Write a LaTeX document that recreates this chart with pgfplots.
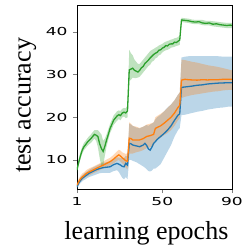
\documentclass[border=0pt]{standalone}
\usepackage{pgfplots}
\pgfplotsset{compat=1.18}
\usepgfplotslibrary{fillbetween}
\usepackage{pgfplotstable}
\usepackage{fontspec}
\setmainfont{Liberation Serif}
\newfontfamily\dejavu{DejaVu Sans}
\definecolor{mblue}{HTML}{1F77B4}
\definecolor{morange}{HTML}{FF7F0E}
\definecolor{mgreen}{HTML}{2CA02C}

\pgfplotstableread{
x m lo hi
1 7.7 7.0 8.4
2 9.5 8.8 10.2
3 11.0 10.2 11.8
4 12.3 11.5 13.1
5 13.1 12.3 14.0
6 13.6 12.8 14.5
7 14.2 13.3 15.1
8 14.6 13.7 15.6
9 15.0 14.0 16.0
10 15.5 14.5 16.5
11 16.0 15.0 17.0
12 15.8 14.5 17.0
13 15.5 13.0 17.0
14 13.8 10.5 16.5
15 12.7 8.5 16.0
16 12.0 8.5 14.5
17 13.2 11.0 15.0
18 14.7 13.2 16.0
19 16.0 14.8 17.2
20 17.4 16.3 18.5
21 18.3 17.2 19.4
22 19.3 18.2 20.4
23 19.8 18.7 20.9
24 20.3 19.2 21.4
25 20.6 19.6 21.6
26 20.4 19.3 21.5
27 21.0 20.0 22.0
28 21.2 20.2 22.2
29 21.0 19.8 22.1
30 21.5 20.0 22.8
31 31.1 28.5 35.8
32 31.3 28.8 35.0
33 31.5 29.3 34.5
34 31.0 29.2 33.5
35 30.8 29.2 33.0
36 30.6 29.3 32.5
37 31.0 29.5 32.5
38 31.6 30.0 33.0
39 31.9 30.5 33.5
40 32.6 31.0 34.0
41 33.0 31.5 34.5
42 33.4 32.0 35.0
43 33.9 32.3 35.5
44 34.3 33.0 35.8
45 34.7 33.2 36.0
46 35.0 33.8 36.3
47 35.2 34.0 36.5
48 35.7 34.5 36.8
49 35.8 34.7 37.0
50 36.2 35.2 37.2
51 36.4 35.5 37.5
52 36.8 35.7 37.7
53 36.7 35.8 37.9
54 37.1 36.0 38.0
55 37.2 36.3 38.2
56 37.2 36.4 38.3
57 37.6 36.5 38.5
58 37.5 36.7 38.6
59 37.8 36.8 38.8
60 38.1 37.0 39.2
61 42.8 42.3 43.3
63 42.7 42.2 43.2
65 42.6 42.1 43.1
67 42.4 41.9 42.9
69 42.3 41.8 42.8
71 42.4 41.8 42.8
73 42.1 41.6 42.8
75 42.0 41.5 42.6
77 42.1 41.5 42.6
79 41.8 41.3 42.5
81 41.9 41.2 42.4
83 41.7 41.1 42.3
85 41.6 41.0 42.2
87 41.5 40.9 42.1
89 41.6 40.9 42.1
90 41.5 40.9 42.1
}\green

\pgfplotstableread{
x m lo hi
1 4.1 3.5 4.7
2 4.9 4.3 5.6
3 5.6 5.0 6.3
4 6.0 5.3 6.8
5 6.3 5.6 7.1
6 6.7 6.0 7.5
7 7.0 6.2 7.8
8 7.2 6.4 8.0
9 7.4 6.6 8.2
10 7.6 6.8 8.4
12 8.0 7.2 8.8
14 8.4 7.6 9.2
16 8.8 8.0 9.6
18 9.2 8.3 10.1
20 9.6 8.7 10.5
22 10.2 9.2 11.2
24 10.9 9.8 12.0
25 11.2 10.0 12.4
26 10.9 9.6 12.2
27 10.5 9.2 11.8
28 10.2 8.8 11.6
29 9.8 8.2 11.4
30 9.7 7.8 11.6
31 15.1 11.5 18.8
32 15.0 11.5 18.5
33 14.7 11.5 18.0
35 14.7 11.8 17.8
37 14.7 12.0 17.5
39 15.0 12.3 17.8
41 15.5 12.8 18.3
43 15.7 13.0 18.5
45 16.0 13.3 18.8
46 17.4 14.5 20.0
47 17.6 14.8 20.3
49 18.0 15.2 20.8
51 18.6 15.8 21.4
53 19.3 16.3 22.2
55 20.0 17.0 23.0
57 21.0 18.0 24.0
59 22.3 19.3 25.3
60 22.8 19.8 25.8
61 28.7 24.5 33.5
63 28.9 24.8 33.4
65 28.8 25.0 33.2
67 28.75 25.2 33.0
70 28.7 25.4 32.8
73 28.8 25.6 32.5
76 28.75 25.8 32.2
79 28.8 26.0 32.0
82 28.8 26.1 31.8
85 28.9 26.3 31.5
88 28.9 26.4 31.2
90 28.9 26.4 31.0
}\orange

\pgfplotstableread{
x m lo hi
1 3.75 3.2 4.3
2 4.6 4.0 5.2
3 5.2 4.6 5.9
4 5.7 5.0 6.4
5 6.0 5.3 6.8
6 6.3 5.5 7.1
7 6.6 5.8 7.4
8 6.9 6.0 7.7
10 7.3 6.3 8.2
12 7.7 6.6 8.6
14 8.0 6.9 9.0
16 8.2 7.0 9.3
18 8.3 7.0 9.5
20 8.4 7.0 9.7
22 8.9 7.4 10.2
24 9.2 7.6 10.6
25 9.0 7.2 10.6
26 8.8 6.5 10.5
27 8.5 5.8 10.4
28 8.4 5.5 10.4
29 9.2 6.0 11.0
30 8.8 5.5 10.8
31 13.9 10.0 18.5
32 13.8 10.0 18.3
33 13.5 9.8 18.0
35 13.3 9.5 17.6
37 13.1 9.0 17.4
39 13.5 8.5 17.8
40 13.9 8.2 18.0
41 13.4 7.8 18.2
42 12.6 7.4 18.0
43 12.3 7.3 18.3
44 13.0 7.5 18.5
45 13.9 8.0 18.8
46 14.3 8.0 19.5
47 14.8 8.3 20.0
49 15.5 9.0 20.6
51 16.2 10.5 21.4
53 17.0 12.0 22.3
55 18.0 13.5 23.0
57 19.3 15.5 24.0
59 20.5 17.0 25.3
60 20.8 17.5 25.8
61 27.0 20.5 34.0
63 27.1 20.6 34.2
65 27.2 20.8 34.3
67 27.3 21.0 34.3
70 27.5 21.3 34.3
73 27.6 21.5 34.3
76 27.8 21.8 34.3
79 27.9 22.0 34.3
82 28.0 22.2 34.3
85 28.05 22.3 34.2
88 28.1 22.5 34.2
90 28.1 22.5 34.2
}\blue

\begin{document}
\begin{tikzpicture}
\begin{axis}[
  scale only axis,
  width=155pt, height=184pt,
  xmin=1, xmax=90, ymin=3.2, ymax=46.3,
  xtick={1,50,90}, ytick={10,20,30,40},
  tick align=outside, xtick pos=left, ytick pos=left,
  major tick length=4pt,
  axis line style={line width=0.8pt},
  /pgf/number format/assume math mode=true,
  tick label style={font=\dejavu\fontsize{11}{11}\selectfont, xscale=1.55},
  xticklabel style={yshift=-1pt},
  xlabel={learning epochs}, ylabel={test accuracy},
  label style={font=\fontsize{26}{26}\selectfont},
  xlabel style={at={(axis description cs:0.448,-0.277)}, anchor=base},
  ylabel style={at={(axis description cs:-0.300,0.454)}, anchor=base},
]
\addplot[name path=bl, draw=none, forget plot] table[x=x,y=lo]{\blue};
\addplot[name path=bh, draw=none, forget plot] table[x=x,y=hi]{\blue};
\addplot[mblue, fill opacity=0.3, draw=none] fill between[of=bl and bh];
\addplot[mblue, line width=1.3pt] table[x=x,y=m]{\blue};

\addplot[name path=ol, draw=none, forget plot] table[x=x,y=lo]{\orange};
\addplot[name path=oh, draw=none, forget plot] table[x=x,y=hi]{\orange};
\addplot[morange, fill opacity=0.3, draw=none] fill between[of=ol and oh];
\addplot[morange, line width=1.3pt] table[x=x,y=m]{\orange};

\addplot[name path=gl, draw=none, forget plot] table[x=x,y=lo]{\green};
\addplot[name path=gh, draw=none, forget plot] table[x=x,y=hi]{\green};
\addplot[mgreen, fill opacity=0.3, draw=none] fill between[of=gl and gh];
\addplot[mgreen, line width=1.3pt] table[x=x,y=m]{\green};
\coordinate (sw) at (rel axis cs:0,0);
\end{axis}
\pgfresetboundingbox
\path[use as bounding box] (sw) ++(-77pt,-61pt) rectangle ++(242pt,250pt);
\end{tikzpicture}
\end{document}
